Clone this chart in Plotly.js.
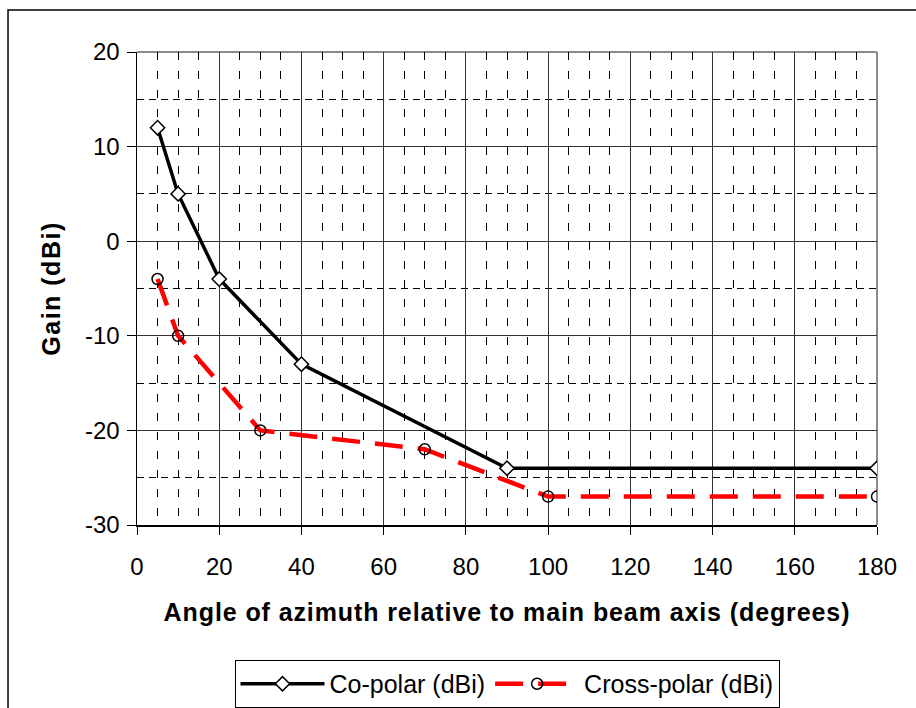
<!DOCTYPE html>
<html>
<head>
<meta charset="utf-8">
<script src="https://cdn.plot.ly/plotly-3.0.1.min.js"></script>
<style>
html,body{margin:0;padding:0;background:#fff;}
#chart{width:916px;height:708px;}
#chart .xtitle{letter-spacing:0.9px;}
#chart .ytitle{letter-spacing:1.5px;}
</style>
</head>
<body>
<div id="chart"></div>
<script>
// Data
const coAngles = [5, 10, 20, 40, 90, 180];
const coGain = [12, 5, -4, -13, -24, -24];
const crossAngles = [5, 10, 30, 70, 100, 180];
const crossGain = [-4, -10, -20, -22, -27, -27];
const seriesNames = ["Co-polar (dBi)", "Cross-polar (dBi)"];
const xTickVals = [0, 20, 40, 60, 80, 100, 120, 140, 160, 180];
const yTickVals = [-30, -20, -10, 0, 10, 20];
const xTitle = "Angle of azimuth relative to main beam axis (degrees)";
const yTitle = "Gain (dBi)";

const FONT = "Liberation Sans, Arial, sans-serif";

const traces = [
  {
    x: coAngles, y: coGain, name: seriesNames[0], type: "scatter", mode: "lines+markers",
    line: {color: "#000000", width: 3.5},
    marker: {symbol: "diamond", size: 11, color: "#ffffff", line: {color: "#000000", width: 1.5}}
  },
  {
    x: crossAngles, y: crossGain, name: seriesNames[1], type: "scatter", mode: "lines+markers",
    line: {color: "#ff0000", width: 4.5, dash: "28px,15px"},
    marker: {symbol: "circle", size: 11, color: "rgba(0,0,0,0)", line: {color: "#000000", width: 1.5}}
  }
];

const layout = {
  width: 916, height: 708,
  margin: {l: 137, r: 39, t: 52, b: 183},
  paper_bgcolor: "#ffffff", plot_bgcolor: "#ffffff",
  font: {family: FONT, color: "#000000", size: 24},
  showlegend: true,
  legend: {
    orientation: "h", x: 0.5, xanchor: "center",
    yref: "container", y: 0.0678, yanchor: "top",
    bordercolor: "#000000", borderwidth: 1, font: {family: FONT, size: 25},
    itemwidth: 84, itemclick: false
  },
  xaxis: {
    range: [0, 180], tickmode: "array", tickvals: xTickVals, ticktext: xTickVals.map(String),
    showline: true, linecolor: "#000000", linewidth: 1.5,
    ticks: "outside", ticklen: 8, tickcolor: "#000000", ticklabelstandoff: 12,
    showgrid: true, gridcolor: "#333333", gridwidth: 1,
    minor: {dtick: 5, tick0: 0, showgrid: true, gridcolor: "#000000", griddash: "8px,11px", gridwidth: 1},
    zeroline: false, automargin: false,
    tickfont: {family: FONT, size: 24},
    title: {text: "<b>" + xTitle + "</b>", font: {family: FONT, size: 25}, standoff: 24}
  },
  yaxis: {
    range: [-30, 20], tickmode: "array", tickvals: yTickVals, ticktext: yTickVals.map(String),
    showline: true, linecolor: "#000000", linewidth: 1.5,
    ticks: "outside", ticklen: 9, tickcolor: "#000000", ticklabelstandoff: 2,
    showgrid: true, gridcolor: "#333333", gridwidth: 1,
    minor: {dtick: 5, tick0: 0, showgrid: true, gridcolor: "#000000", griddash: "7px,5px", gridwidth: 1},
    zeroline: false,
    tickfont: {family: FONT, size: 24},
    title: {text: "<b>" + yTitle + "</b>", font: {family: FONT, size: 25}, standoff: 17}
  },
  shapes: [
    {type: "line", xref: "paper", yref: "paper", x0: 0, x1: 1, y0: 1, y1: 1, line: {color: "#8c8c8c", width: 2}, layer: "between"},
    {type: "line", xref: "paper", yref: "paper", x0: 1, x1: 1, y0: 0, y1: 1, line: {color: "#8c8c8c", width: 2}, layer: "between"},
    {type: "rect", xref: "paper", yref: "paper", x0: -0.1743, x1: 1.2, y0: -0.5, y1: 1.0888, line: {color: "#000000", width: 1.5}, fillcolor: "rgba(0,0,0,0)", layer: "above"}
  ]
};

Plotly.newPlot("chart", traces, layout, {displayModeBar: false, staticPlot: true});
</script>
</body>
</html>
